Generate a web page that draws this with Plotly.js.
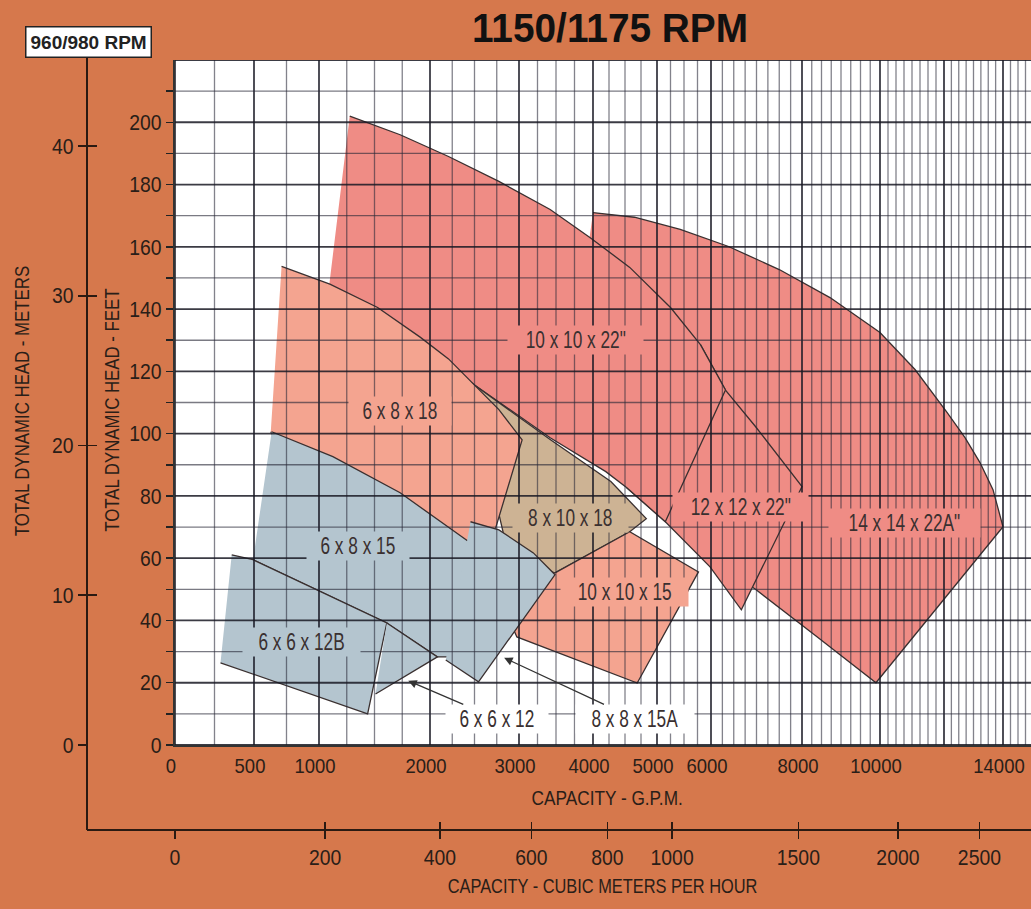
<!DOCTYPE html>
<html><head><meta charset="utf-8">
<script src="https://cdn.plot.ly/plotly-3.0.1.min.js"></script>
<style>html,body{margin:0;padding:0;background:#D6784C;}#chart{width:1031px;height:909px;}</style>
</head><body><div id="chart"></div>
<script>
// ---------------- axis values ----------------
const GPM_TICKS   = [0, 500, 1000, 2000, 3000, 4000, 5000, 6000, 8000, 10000, 14000];
const FEET_TICKS  = [0, 20, 40, 60, 80, 100, 120, 140, 160, 180, 200];
const METER_TICKS = [0, 10, 20, 30, 40];
const M3H_TICKS   = [0, 200, 400, 600, 800, 1000, 1500, 2000, 2500];
const FT_PER_M_SCALE    = 4.81;  // head-scale ratio: 1150/1175 RPM feet per 960/980 RPM metre
const GPM_PER_M3H_SCALE = 5.28;  // flow-scale ratio: 1150/1175 RPM gpm per 960/980 RPM m3/h

// the chart's own (non-linear) capacity scale: knots in gpm and their relative axis position
const SCALE_GPM = [0, 500, 1000, 2000, 3000, 4000, 5000, 6000, 8000, 10000, 12000, 14000, 15000];
const SCALE_POS = [0, 79, 144, 255, 344, 418, 482, 536, 627, 705, 769, 828, 858];

// ---------------- pump coverage regions (capacity gpm, head ft) ----------------
const R14x14x22A_GPM = [4000, 4647, 5430, 6386, 7500, 8718, 10000, 11094, 12102, 12712, 13220, 13661, 14000, 9897, 8359, 6977, 6173, 4883, 3931];
const R14x14x22A_FT  = [171, 169.5, 165.6, 160.1, 152.7, 143.7, 132.5, 120.6, 106.8, 98.7, 90.7, 82, 70.1, 20, 35, 50, 58, 104.5, 159];
const R12x12x22_GPM  = [5804, 6318, 6977, 7500, 8000, 6667, 5982, 5154, 4529, 5429];
const R12x12x22_FT   = [128.6, 114, 102.3, 92.6, 83, 43.4, 57.2, 71.7, 82.6, 104.5];
const R10x10x22_GPM  = [1277, 1731, 2208, 2774, 3421, 3958, 4574, 5250, 5804, 6318, 5154, 4529, 4200, 3421, 2432, 1731, 1071];
const R10x10x22_FT   = [202, 196, 189, 181, 172, 163, 153.4, 140.5, 128.6, 114, 71.7, 82.6, 87.8, 98.7, 117, 128.6, 141.5];
const R8x10x18_GPM   = [2432, 3421, 4279, 4833, 4574, 3487, 2893, 2659];
const R8x10x18_FT    = [117, 98.1, 84.6, 72.7, 68.5, 55.3, 59.5, 88.4];
const R10x10x15_GPM  = [3487, 4574, 5768, 4691, 2976, 2893];
const R10x10x15_FT   = [55.3, 68.5, 55.6, 19.9, 34.7, 40.2];
const R6x8x18_GPM    = [712, 1098, 1528, 1911, 2208, 2477, 2774, 3042, 2739, 2716, 2318, 697, 629];
const R6x8x18_FT     = [153.7, 148, 140.5, 131, 124, 116.4, 107.7, 98, 69.8, 65.9, 64.3, 95, 100.6];
const R6x8x15_GPM    = [636, 1125, 1731, 2375, 2500, 2198, 2083, 1611, 984, 494];
const R6x8x15_FT     = [100.6, 92.6, 81, 66.6, 64.0, 28.3, 28.3, 39.2, 49.8, 59.5];
const R8x8x15A_GPM   = [2455, 2774, 3194, 3487, 2545, 2177];
const R8x8x15A_FT    = [71.7, 69.1, 61.7, 54.7, 20.3, 27.3];
const R6x6x12B_GPM   = [359, 494, 984, 1611, 1438, 288];
const R6x6x12B_FT    = [61.1, 59.5, 49.8, 39.2, 10, 26.4];
const R6x6x12_GPM    = [1611, 2083, 1509];
const R6x6x12_FT     = [39.2, 28.3, 16.4];

// ---------------- styling ----------------
const FONT = '"Liberation Sans", Arial, sans-serif';
const TXT = '#2a1e18';
const ORANGE = '#D6784C';
const PINK = '#EF8C85', SALMON = '#F4A490', BLUE = '#B4C5CF', TAN = '#CDB394';
const W = 1031, H = 909;

function pos(g) {
  for (let i = 1; i < SCALE_GPM.length; i++) {
    if (g <= SCALE_GPM[i]) {
      const t = (g - SCALE_GPM[i-1]) / (SCALE_GPM[i] - SCALE_GPM[i-1]);
      return SCALE_POS[i-1] + t * (SCALE_POS[i] - SCALE_POS[i-1]);
    }
  }
  return SCALE_POS[SCALE_POS.length-1];
}

const regions = [
  {name:'14 x 14 x 22A"', g:R14x14x22A_GPM, f:R14x14x22A_FT, c:PINK, lg:10781, lf:71.4},
  {name:'12 x 12 x 22"',  g:R12x12x22_GPM,  f:R12x12x22_FT,  c:PINK, lg:6646, lf:76.5},
  {name:'10 x 10 x 22"',  g:R10x10x22_GPM,  f:R10x10x22_FT,  c:PINK, lg:3764, lf:130.2},
  {name:'8 x 10 x 18',    g:R8x10x18_GPM,   f:R8x10x18_FT,   c:TAN,  lg:3697, lf:73},
  {name:'10 x 10 x 15',   g:R10x10x15_GPM,  f:R10x10x15_FT,  c:SALMON, lg:4485, lf:49.2},
  {name:'6 x 8 x 18',     g:R6x8x18_GPM,    f:R6x8x18_FT,    c:SALMON, lg:1731, lf:107.4},
  {name:'6 x 8 x 15',     g:R6x8x15_GPM,    f:R6x8x15_FT,    c:BLUE, lg:1348, lf:64},
  {name:'8 x 8 x 15A',    g:R8x8x15A_GPM,   f:R8x8x15A_FT,   c:BLUE, lg:null},
  {name:'6 x 6 x 12B',    g:R6x6x12B_GPM,   f:R6x6x12B_FT,   c:BLUE, lg:867, lf:33.1},
  {name:'6 x 6 x 12',     g:R6x6x12_GPM,    f:R6x6x12_FT,    c:BLUE, lg:null}
];

const traces = regions.map(r => ({
  type:'scatter', mode:'lines', name:r.name,
  x:r.g.map(pos), y:r.f, fill:'toself', fillcolor:r.c,
  line:{color:'#3a3030', width:1.3}, hoverinfo:'skip', showlegend:false
}));
// anchors for the secondary (960/980 RPM) scales
traces.push({type:'scatter', x:[null], y:[null], xaxis:'x', yaxis:'y2', showlegend:false, hoverinfo:'skip'});
traces.push({type:'scatter', x:[null], y:[null], xaxis:'x', yaxis:'y3', showlegend:false, hoverinfo:'skip'});
traces.push({type:'scatter', x:[null], y:[null], xaxis:'x2', yaxis:'y', showlegend:false, hoverinfo:'skip'});
traces.push({type:'scatter', x:[null], y:[null], xaxis:'x3', yaxis:'y', showlegend:false, hoverinfo:'skip'});

// grid drawn above the coloured regions
const shapes = [];
const XMAX = 856, YMAX = 220;
for (let g = 0; g <= 14750; g += 250) {
  const major = SCALE_GPM.includes(g);
  shapes.push({type:'line', layer:'above', xref:'x', yref:'y', x0:pos(g), x1:pos(g), y0:0, y1:YMAX,
    line:{color: major ? 'rgba(25,25,35,0.85)' : 'rgba(40,40,55,0.58)', width: major ? 1.8 : 1.3}});
}
for (let h = 0; h <= YMAX; h += 10) {
  const major = h % 20 === 0;
  shapes.push({type:'line', layer:'above', xref:'x', yref:'y', x0:0, x1:XMAX, y0:h, y1:h,
    line:{color: major ? 'rgba(25,25,35,0.85)' : 'rgba(40,40,55,0.62)', width: major ? 1.8 : 1.3}});
}
// L-shaped frame of the 960/980 RPM scales
shapes.push({type:'line', xref:'paper', yref:'paper', x0:87/W, x1:87/W, y0:1-57/H, y1:1-830/H, line:{color:'#2a1a12', width:2}});
shapes.push({type:'line', xref:'paper', yref:'paper', x0:87/W, x1:1, y0:1-830/H, y1:1-830/H, line:{color:'#2a1a12', width:2}});

const LBL = {family:FONT, size:23, color:'#3a3030'};
const annotations = [];
regions.forEach(r => {
  if (r.lg === null) return;
  annotations.push({xref:'x', yref:'y', x:pos(r.lg), y:r.lf, xanchor:'center', yanchor:'middle', text:r.name, showarrow:false,
    bgcolor:r.c, borderpad:1, font:LBL});
});
// pointer labels
annotations.push({xref:'x', yref:'y', x:pos(1804), y:20.6, ax:89, ay:38, text:'6 x 6 x 12',
  showarrow:true, arrowhead:2, arrowsize:1.3, arrowwidth:1.3, arrowcolor:'#333', bgcolor:'#ffffff', borderpad:1, font:LBL});
annotations.push({xref:'x', yref:'y', x:pos(2833), y:28, ax:131, ay:61, text:'8 x 8 x 15A',
  showarrow:true, arrowhead:2, arrowsize:1.3, arrowwidth:1.3, arrowcolor:'#333', bgcolor:'#ffffff', borderpad:1, font:LBL});
// axis titles and rpm box
const AX = {family:FONT, size:21, color:TXT};
annotations.push({xref:'paper', yref:'paper', x:607/W, y:1-797/H, xanchor:'center', yanchor:'middle', text:'CAPACITY - G.P.M.', showarrow:false, font:AX});
annotations.push({xref:'paper', yref:'paper', x:602/W, y:1-885/H, xanchor:'center', yanchor:'middle', text:'CAPACITY - CUBIC METERS PER HOUR', showarrow:false, font:AX});
annotations.push({xref:'paper', yref:'paper', x:22/W, y:1-401/H, xanchor:'center', yanchor:'middle', text:'TOTAL DYNAMIC HEAD - METERS', textangle:-90, showarrow:false, font:{family:FONT, size:20, color:TXT}});
annotations.push({xref:'paper', yref:'paper', x:112/W, y:1-410/H, xanchor:'center', yanchor:'middle', text:'TOTAL DYNAMIC HEAD - FEET', textangle:-90, showarrow:false, font:{family:FONT, size:20, color:TXT}});
annotations.push({xref:'paper', yref:'paper', x:88/W, y:1-42/H, xanchor:'center', yanchor:'middle', text:'<b>960/980 RPM</b>', showarrow:false,
  bgcolor:'#ffffff', bordercolor:'#222', borderwidth:1.5, borderpad:4, font:{family:FONT, size:19, color:'#222'}});

const tickFont = {family:FONT, size:22, color:TXT};
const gpmTickFont = {family:FONT, size:21, color:TXT};
const minorFeet = [];
for (let h = 10; h <= 210; h += 20) minorFeet.push(h);

const layout = {
  width:W, height:H, margin:{l:0, r:0, t:0, b:0},
  paper_bgcolor:ORANGE, plot_bgcolor:'#ffffff', showlegend:false,
  title:{text:'<b>1150/1175 RPM</b>', font:{family:FONT, size:40, color:'#111'}, x:610/W, xanchor:'center', y:1-28/H, yanchor:'middle'},
  xaxis:{domain:[175/W, 1], range:[0, XMAX], tickmode:'array', tickvals:GPM_TICKS.map(pos), ticktext:GPM_TICKS.map(String),
    ticks:'outside', ticklen:1, tickcolor:'rgba(0,0,0,0)', ticklabeloverflow:'allow', ticklabelshift:-4,
    showgrid:false, zeroline:false, showline:true, linecolor:'#333', linewidth:2, tickfont:gpmTickFont, fixedrange:true},
  yaxis:{domain:[1-745/H, 1-60/H], range:[0, YMAX], tickmode:'array', tickvals:FEET_TICKS,
    ticks:'outside', ticklen:7, tickwidth:1.5, tickcolor:'#222',
    minor:{tickvals:minorFeet, ticks:'outside', ticklen:7, tickwidth:1.5, tickcolor:'#222', showgrid:false},
    showgrid:false, zeroline:false, showline:true, linecolor:'#333', linewidth:2, tickfont:tickFont, fixedrange:true},
  yaxis2:{overlaying:'y', anchor:'free', position:87/W, side:'left', range:[0, YMAX/FT_PER_M_SCALE], tickmode:'array', tickvals:METER_TICKS,
    ticks:'outside', ticklen:9, tickwidth:1.6, tickcolor:'#2a1a12', showgrid:false, zeroline:false, showline:false, tickfont:tickFont, fixedrange:true},
  yaxis3:{overlaying:'y', anchor:'free', position:87/W, side:'left', range:[0, YMAX/FT_PER_M_SCALE], tickmode:'array', tickvals:METER_TICKS,
    ticks:'inside', ticklen:9, tickwidth:1.6, tickcolor:'#2a1a12', showticklabels:false, showgrid:false, zeroline:false, showline:false, fixedrange:true},
  xaxis2:{overlaying:'x', anchor:'free', position:1-830/H, side:'bottom', range:[0, XMAX], tickmode:'array',
    tickvals:M3H_TICKS.map(m => pos(m * GPM_PER_M3H_SCALE)), ticktext:M3H_TICKS.map(String),
    ticks:'outside', ticklen:8, tickwidth:1.6, tickcolor:'#2a1a12', ticklabeloverflow:'allow',
    showgrid:false, zeroline:false, showline:false, tickfont:tickFont, fixedrange:true},
  xaxis3:{overlaying:'x', anchor:'free', position:1-830/H, side:'bottom', range:[0, XMAX], tickmode:'array',
    tickvals:M3H_TICKS.map(m => pos(m * GPM_PER_M3H_SCALE)),
    ticks:'inside', ticklen:8, tickwidth:1.6, tickcolor:'#2a1a12', showticklabels:false, showgrid:false, zeroline:false, showline:false, fixedrange:true},
  shapes:shapes, annotations:annotations
};

// the original lettering is a condensed face: narrow the rendered text horizontally
function condense(gd) {
  gd.querySelectorAll('text').forEach(t => {
    const s = t.textContent.trim();
    if (!s) return;
    let f = null;
    if (t.closest('.annotation')) {
      if (s === '960/980 RPM') f = null;
      else if (/^CAPACITY - G/.test(s)) f = 0.82;
      else if (/^CAPACITY/.test(s)) f = 0.78;
      else if (/^TOTAL/.test(s)) f = 0.84;
      else f = 0.75;
    } else if (t.classList.contains('gtitle')) {
      f = 0.97;
    } else if (t.closest('.xtick, .ytick, .x2tick, .y2tick')) {
      f = 0.88;
    }
    if (f) {
      const L = t.getComputedTextLength();
      if (L > 0) { t.setAttribute('textLength', (L * f).toFixed(1)); t.setAttribute('lengthAdjust', 'spacingAndGlyphs'); }
    }
  });
}

Plotly.newPlot('chart', traces, layout, {displayModeBar:false, staticPlot:true}).then(condense);
</script>
</body></html>
